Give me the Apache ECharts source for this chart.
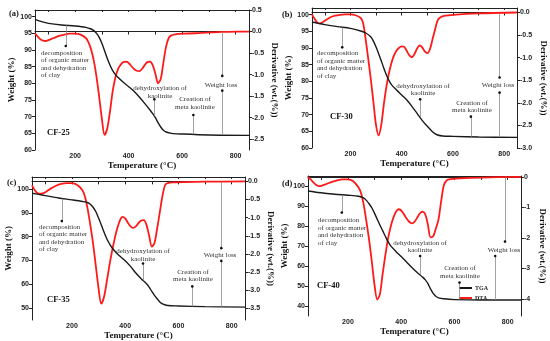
<!DOCTYPE html>
<html><head><meta charset="utf-8">
<script src="https://cdn.jsdelivr.net/npm/echarts@6/dist/echarts.min.js"></script>
<style>html,body{margin:0;padding:0;background:#fff}#c{width:550px;height:341px}</style>
</head><body><div id="c"></div>
<script>
// ---------- DATA ----------
const panelLetters = ['(a)', '(b)', '(c)', '(d)'];
const sampleNames = ['CF-25', 'CF-30', 'CF-35', 'CF-40'];
const tempTicks = [100, 200, 300, 400, 500, 600, 700, 800];
const tempLabels = [200, 400, 600, 800];

// Panel (a) CF-25
const tgaTempA = [50,75,100,150,200,240,260,270,280,290,300,310,320,330,340,350,360,380,400,420,440,460,480,490,500,510,520,530,540,560,600,700,850];
const tgaWeightA = [99.2,98.5,98.0,97.5,97.2,96.8,96.3,95.8,95.0,93.8,92.0,89.8,87.5,85.5,83.9,82.7,81.8,80.3,79.0,77.6,75.9,74.0,72.0,70.9,69.7,68.2,66.9,65.9,65.4,65.0,64.8,64.5,64.4];
const dtaTempA = [50,60,70,80,90,100,120,140,160,180,200,220,240,250,260,270,280,290,300,310,320,330,340,350,360,370,380,390,400,410,420,430,440,450,460,470,480,490,500,510,520,530,540,550,560,580,600,650,700,750,800,850];
const dtaDerivA = [-0.04,-0.12,-0.18,-0.21,-0.22,-0.2,-0.15,-0.1,-0.07,-0.05,-0.05,-0.07,-0.15,-0.25,-0.42,-0.68,-1.05,-1.52,-2.02,-2.4,-2.25,-1.87,-1.4,-1.08,-0.88,-0.77,-0.71,-0.7,-0.73,-0.8,-0.87,-0.91,-0.92,-0.87,-0.78,-0.71,-0.7,-0.78,-0.98,-1.2,-1.1,-0.72,-0.35,-0.15,-0.09,-0.06,-0.05,-0.04,-0.02,-0.01,0.0,0.0];
const weightTicksA = [60,65,70,75,80,85,90,95,100];
const derivTicksA = [-2.5,-2,-1.5,-1,-0.5,0,0.5];

// Panel (b) CF-30
const tgaTempB = [50,75,100,150,200,240,260,280,290,300,310,320,330,340,350,360,380,400,420,440,460,480,500,520,530,540,560,600,700,850];
const tgaWeightB = [97.8,97.4,97.0,96.4,95.9,95.1,94.5,93.3,92.0,90.3,88.3,86.2,84.0,82.0,80.3,79.0,77.4,75.9,74.4,72.5,70.4,68.3,66.5,64.9,64.3,63.9,63.6,63.5,63.3,63.2];
const dtaTempB = [50,60,70,80,90,100,120,140,160,180,200,220,240,250,260,270,280,290,300,310,320,330,340,350,360,370,380,390,400,410,420,430,440,450,460,470,480,490,500,510,520,530,540,550,570,600,700,850];
const dtaDerivB = [-0.04,-0.14,-0.22,-0.24,-0.22,-0.18,-0.11,-0.07,-0.05,-0.04,-0.04,-0.06,-0.12,-0.25,-0.62,-1.05,-1.5,-2.0,-2.5,-2.72,-2.5,-2.05,-1.65,-1.35,-1.12,-0.95,-0.84,-0.78,-0.75,-0.76,-0.85,-0.95,-0.99,-0.92,-0.8,-0.73,-0.77,-0.86,-0.9,-0.82,-0.6,-0.38,-0.18,-0.11,-0.07,-0.05,-0.02,0.0];
const weightTicksB = [60,65,70,75,80,85,90,95,100];
const derivTicksB = [-3,-2.5,-2,-1.5,-1,-0.5,0];

// Panel (c) CF-35
const tgaTempC = [50,75,100,150,200,240,260,270,280,290,300,310,320,330,340,350,370,400,420,440,460,480,490,500,510,520,530,540,560,600,700,850];
const tgaWeightC = [98.2,97.7,97.2,96.2,95.4,94.7,94.2,93.5,92.2,90.4,87.8,85.0,82.0,79.3,77.2,75.4,72.8,69.9,67.5,64.7,62.3,60.2,58.8,57.0,55.3,53.9,52.6,51.8,51.1,50.9,50.6,50.4];
const dtaTempC = [50,60,70,80,90,100,120,140,160,180,200,220,240,250,260,270,280,290,300,310,320,330,340,350,360,370,380,390,400,410,420,430,440,450,460,470,480,490,500,510,520,530,540,550,560,580,620,700,850];
const dtaDerivC = [-0.11,-0.24,-0.32,-0.34,-0.33,-0.3,-0.2,-0.12,-0.07,-0.05,-0.05,-0.1,-0.25,-0.45,-0.8,-1.25,-1.75,-2.35,-2.95,-3.37,-3.2,-2.8,-2.35,-1.95,-1.6,-1.3,-1.08,-0.98,-1.02,-1.14,-1.24,-1.28,-1.24,-1.15,-1.08,-1.07,-1.2,-1.5,-1.8,-1.7,-1.3,-0.85,-0.4,-0.1,-0.05,-0.03,-0.02,-0.01,0.0];
const weightTicksC = [50,60,70,80,90,100];
const derivTicksC = [-3.5,-3,-2.5,-2,-1.5,-1,-0.5,0];

// Panel (d) CF-40
const tgaTempD = [50,75,100,150,200,240,260,270,280,290,300,310,320,330,340,350,360,380,400,420,440,460,480,490,500,510,520,530,540,560,600,700,850];
const tgaWeightD = [97.5,97.0,96.6,95.9,95.4,94.9,93.9,92.7,91.0,89.0,86.3,83.4,80.5,77.8,75.0,72.3,70.2,67.3,64.7,62.0,59.3,56.8,54.5,53.2,51.3,48.6,46.3,44.9,44.1,43.6,43.2,43.0,43.0];
const dtaTempD = [50,60,70,80,90,100,120,140,160,180,200,220,240,250,260,270,280,290,300,310,320,330,340,350,360,370,380,390,400,410,420,430,440,450,460,470,480,490,500,510,520,530,540,550,560,570,580,620,700,850];
const dtaDerivD = [-0.01,-0.08,-0.18,-0.26,-0.3,-0.29,-0.23,-0.16,-0.11,-0.08,-0.08,-0.14,-0.35,-0.55,-0.95,-1.5,-2.1,-2.8,-3.55,-4.02,-3.85,-3.2,-2.6,-2.05,-1.65,-1.35,-1.15,-1.06,-1.1,-1.22,-1.36,-1.47,-1.52,-1.47,-1.34,-1.2,-1.14,-1.22,-1.55,-1.98,-1.95,-1.7,-1.4,-0.8,-0.28,-0.12,-0.08,-0.05,-0.02,0.0];
const weightTicksD = [40,50,60,70,80,90,100];
const derivTicksD = [-4,-3,-2,-1,0];

// Annotation anchors: [temperature, start value, end value]
const annotA = {dec:[165,97.4,91.2], dehy:[496,75.2,70.2], crea:[642,70.5,64.7], wlTop:[750,-0.01,-1.03], wlBot:[750,77.8,64.5]};
const annotB = {dec:[168,96.2,90.2], dehy:[472,74.6,69.2], crea:[670,69.4,63.4], wlTop:[782,-0.01,-1.44], wlBot:[782,76.6,63.2]};
const annotC = {dec:[162,96.0,86.5], dehy:[467,68.7,61.6], crea:[652,59.1,50.7], wlTop:[761,-0.01,-1.84], wlBot:[761,69.8,50.5]};
const annotD = {dec:[177,95.6,86.7], dehy:[471,65.0,55.6], crea:[619,51.7,43.2], wlTop:[790,-0.01,-2.12], wlBot:[753,65.0,43.0]};

// ---------- LAYOUT ----------
const SERIF = "'Liberation Serif','Times New Roman',serif";
const SANS = "'Liberation Sans',Arial,sans-serif";
const panels = [
  {grid:{left:35,top:10,width:214,height:140}, wr:[60,102], dr:[-2.75,0.5], wt:weightTicksA, dt:derivTicksA, dig:1,
   tt:tgaTempA, tw:tgaWeightA, dtT:dtaTempA, dd:dtaDerivA, an:annotA, gapL:17, gapR:21, gapX:11},
  {grid:{left:312,top:8,width:205,height:140}, wr:[60,102], dr:[-3.0,0.1], wt:weightTicksB, dt:derivTicksB, dig:1,
   tt:tgaTempB, tw:tgaWeightB, dtT:dtaTempB, dd:dtaDerivB, an:annotB, gapL:12, gapR:22, gapX:11},
  {grid:{left:32,top:177,width:213,height:143}, wr:[45,105], dr:[-3.82,0.12], wt:weightTicksC, dt:derivTicksC, dig:1,
   tt:tgaTempC, tw:tgaWeightC, dtT:dtaTempC, dd:dtaDerivC, an:annotC, gapL:12, gapR:21, gapX:9},
  {grid:{left:308,top:176,width:213,height:140}, wr:[35,105], dr:[-4.56,0.03], wt:weightTicksD, dt:derivTicksD, dig:0,
   tt:tgaTempD, tw:tgaWeightD, dtT:dtaTempD, dd:dtaDerivD, an:annotD, gapL:15, gapR:17, gapX:11}
];

const axLine = {show:true, lineStyle:{color:'#222', width:1}};
const tickLbl = {fontSize:7, fontWeight:'bold', fontFamily:SANS, color:'#222', margin:3};
const grids = [], xAxes = [], yAxes = [], series = [];

function zip(a, b) { return a.map((v, i) => [v, b[i]]); }

panels.forEach((p, i) => {
  grids.push(Object.assign({containLabel:false}, p.grid));
  xAxes.push({gridIndex:i, type:'value', min:50, max:850, position:'bottom',
    axisLine:axLine, splitLine:{show:false},
    axisTick:{show:true, length:3, inside:false, customValues:tempTicks, lineStyle:{color:'#222'}},
    axisLabel:Object.assign({customValues:tempLabels}, tickLbl),
    name:'Temperature (°C)', nameLocation:'middle', nameGap:p.gapX,
    nameTextStyle:{fontFamily:SERIF, fontWeight:'bold', fontSize:9, color:'#111'}});
  xAxes.push({gridIndex:i, type:'value', min:50, max:850, position:'top',
    axisLine:axLine, splitLine:{show:false},
    axisTick:{show:true, length:2, inside:true, customValues:tempTicks, lineStyle:{color:'#222'}},
    axisLabel:{show:false}});
  yAxes.push({gridIndex:i, type:'value', min:p.wr[0], max:p.wr[1], position:'left',
    axisLine:axLine, splitLine:{show:false},
    axisTick:{show:true, length:3, customValues:p.wt, lineStyle:{color:'#222'}},
    axisLabel:Object.assign({customValues:p.wt}, tickLbl),
    name:'Weight (%)', nameLocation:'middle', nameGap:p.gapL,
    nameTextStyle:{fontFamily:SERIF, fontWeight:'bold', fontSize:9, color:'#111'}});
  yAxes.push({gridIndex:i, type:'value', min:p.dr[0], max:p.dr[1], position:'right',
    axisLine:axLine, splitLine:{show:false},
    axisTick:{show:true, length:3, customValues:p.dt, lineStyle:{color:'#222'}},
    axisLabel:Object.assign({customValues:p.dt, formatter:(v)=>Number(v).toFixed(p.dig)}, tickLbl),
    name:'Derivative (wt.(%))', nameLocation:'middle', nameGap:p.gapR, nameRotate:-90,
    nameTextStyle:{fontFamily:SERIF, fontWeight:'bold', fontSize:9, color:'#111'}});

  const a = p.an;
  const seg = (t, v1, v2) => [{coord:[t, v1]}, {coord:[t, v2]}];
  const annLine = {silent:true, symbol:['none','none'], animation:false,
    lineStyle:{color:'#8a8a8a', width:0.8, type:'solid'}, label:{show:false}};
  const dot = (t, v) => ({coord:[t, v], symbol:'circle', symbolSize:2.6, itemStyle:{color:'#111'}});
  const annPt = {silent:true, animation:false, label:{show:false}};

  series.push({name:'TGA', type:'line', xAxisIndex:2*i, yAxisIndex:2*i, data:zip(p.tt, p.tw),
    showSymbol:false, smooth:0.3, z:3,
    lineStyle:{color:'#1a1a1a', width:1.4}, itemStyle:{color:'#1a1a1a'},
    markLine:Object.assign({data:[seg(a.dec[0],a.dec[1],a.dec[2]), seg(a.dehy[0],a.dehy[1],a.dehy[2]),
      seg(a.crea[0],a.crea[1],a.crea[2]), seg(a.wlBot[0],a.wlBot[1],a.wlBot[2])]}, annLine),
    markPoint:Object.assign({data:[dot(a.dec[0],a.dec[2]), dot(a.dehy[0],a.dehy[1]), dot(a.crea[0],a.crea[1]), dot(a.wlBot[0],a.wlBot[1])]}, annPt)});
  series.push({name:'DTA', type:'line', xAxisIndex:2*i, yAxisIndex:2*i+1, data:zip(p.dtT, p.dd),
    showSymbol:false, smooth:0.3, z:2,
    lineStyle:{color:'#ff1a1a', width:1.8}, itemStyle:{color:'#ff1a1a'},
    markLine:Object.assign({data:[seg(a.wlTop[0],a.wlTop[1],a.wlTop[2])]}, annLine),
    markPoint:Object.assign({data:[dot(a.wlTop[0],a.wlTop[2])]}, annPt)});
});

// ---------- TEXT ANNOTATIONS ----------
const annStyle = {fontFamily:SERIF, fontSize:7, fill:'#333', lineHeight:7.5};
function txt(x, y, s, align, extra) {
  return {type:'text', x:x, y:y, silent:true,
    style:Object.assign({text:s, textAlign:align||'left', textVerticalAlign:'top'}, annStyle, extra||{})};
}
const bold = {fontFamily:SERIF, fontWeight:'bold', fontSize:8.5, fill:'#111'};
const decText = 'decomposition\nof organic matter\nand dehydration\nof clay';
const graphic = [
  txt(9, 10, panelLetters[0], 'left', bold), txt(282, 11, panelLetters[1], 'left', bold),
  txt(7, 179, panelLetters[2], 'left', bold), txt(282, 180, panelLetters[3], 'left', bold),
  txt(47, 129, sampleNames[0], 'left', bold), txt(330, 113, sampleNames[1], 'left', bold),
  txt(47, 296, sampleNames[2], 'left', bold), txt(317, 282, sampleNames[3], 'left', bold),
  // (a)
  txt(41, 49, decText), txt(160, 84.5, 'dehydroxylation of\nkaolinite', 'center'),
  txt(195, 95.5, 'Creation of\nmeta kaolinite', 'center'), txt(221, 81, 'Weight loss', 'center'),
  // (b)
  txt(317, 49.5, decText), txt(423, 82, 'dehydroxylation of\nkaolinite', 'center'),
  txt(472, 99, 'Creation of\nmeta kaolinite', 'center'), txt(498, 81, 'Weight loss', 'center'),
  // (c)
  txt(39, 223, decText), txt(143, 247.5, 'dehydroxylation of\nkaolinite', 'center'),
  txt(193, 268, 'Creation of\nmeta kaolinite', 'center'), txt(220, 251, 'Weight loss', 'center'),
  // (d)
  txt(318, 216.5, decText), txt(420, 239, 'dehydroxylation of\nkaolinite', 'center'),
  txt(460, 264.5, 'Creation of\nmeta kaolinite', 'center'), txt(504, 246, 'Weight loss', 'center')
];

const chart = echarts.init(document.getElementById('c'), null, {renderer:'canvas'});
chart.setOption({
  animation:false,
  backgroundColor:'#fff',
  grid:grids, xAxis:xAxes, yAxis:yAxes, series:series, graphic:graphic,
  legend:{data:['TGA','DTA'], left:459, top:285, orient:'vertical', icon:'rect', itemWidth:13, itemHeight:2,
    itemGap:4, selectedMode:false, padding:0,
    textStyle:{fontFamily:SERIF, fontWeight:'bold', fontSize:6, color:'#222', padding:[0,0,0,-2]}}
});
</script></body></html>
